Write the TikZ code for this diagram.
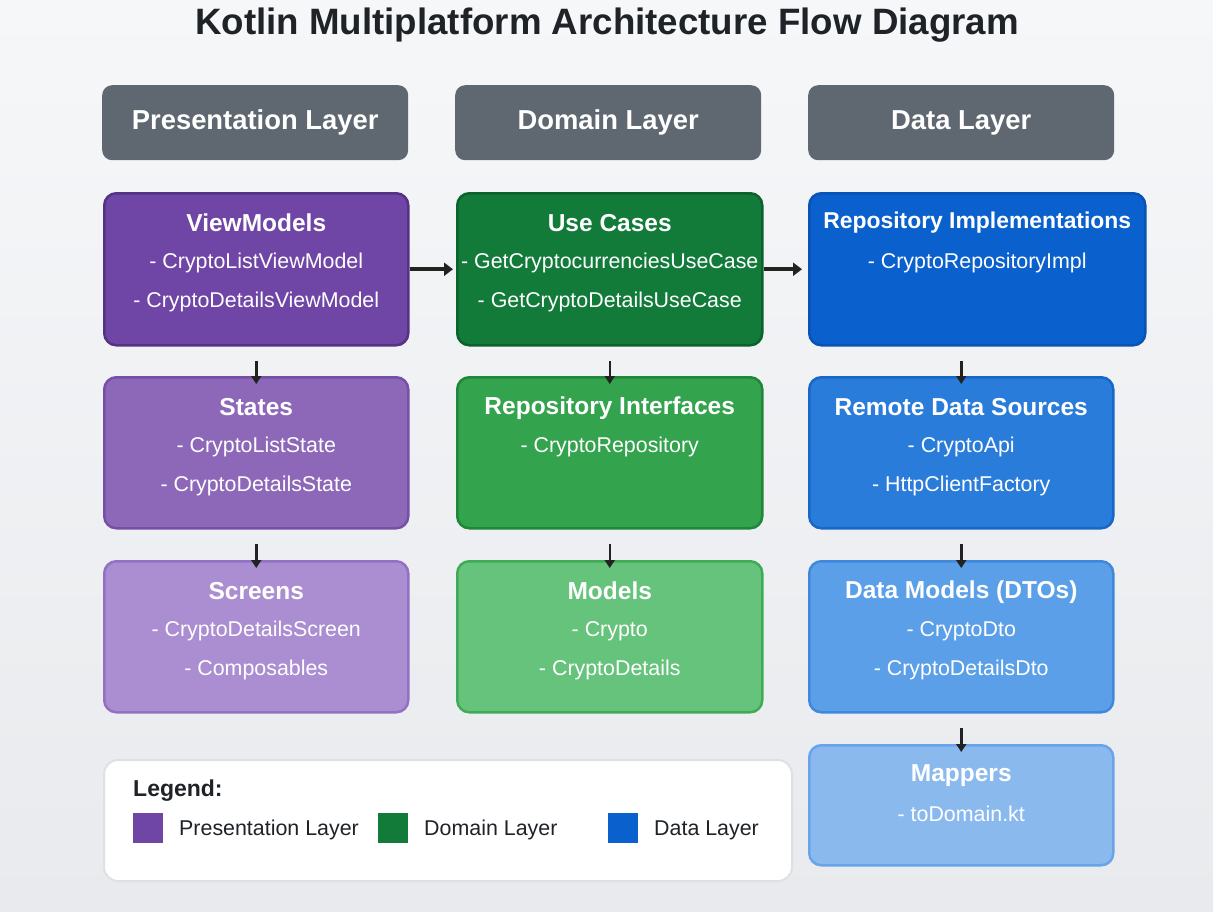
\documentclass[tikz,border=0pt]{standalone}
\usepackage{fontspec}
\setmainfont{Liberation Sans}
\usetikzlibrary{arrows.meta,positioning}
\definecolor{bgA}{HTML}{F6F7F9}
\definecolor{bgB}{HTML}{E8EAED}
\definecolor{hdr}{HTML}{5F6770}
\definecolor{txt}{HTML}{1F2328}
\definecolor{pA}{HTML}{6F45A6}\definecolor{pAb}{HTML}{553383}
\definecolor{pB}{HTML}{8D68B8}\definecolor{pBb}{HTML}{7650A8}
\definecolor{pC}{HTML}{AB8DD1}\definecolor{pCb}{HTML}{9270C3}
\definecolor{gA}{HTML}{127B3A}\definecolor{gAb}{HTML}{0C622D}
\definecolor{gB}{HTML}{33A34D}\definecolor{gBb}{HTML}{1F863A}
\definecolor{gC}{HTML}{66C37B}\definecolor{gCb}{HTML}{40AB57}
\definecolor{bA}{HTML}{0A60CD}\definecolor{bAb}{HTML}{0953B5}
\definecolor{bB}{HTML}{2A7CDB}\definecolor{bBb}{HTML}{1767C8}
\definecolor{bC}{HTML}{5A9FE8}\definecolor{bCb}{HTML}{3F88DC}
\definecolor{bD}{HTML}{8AB9EE}\definecolor{bDb}{HTML}{69A4EA}
\definecolor{arr}{HTML}{222222}
\definecolor{lgb}{HTML}{DDE1E5}
\tikzset{
  box/.style={draw, line width=2.5pt, rounded corners=12pt, anchor=north west, inner sep=0pt},
  hdrbox/.style={fill=hdr, rounded corners=10pt, anchor=north west, inner sep=0pt, minimum width=306pt, minimum height=75pt,
     text=white, font=\fontsize{27.4}{32}\selectfont\bfseries},
  ttl/.style={text=white, font=\fontsize{24.5}{29}\selectfont\bfseries, inner sep=0pt},
  itm/.style={text=white, font=\fontsize{21.4}{25}\selectfont, inner sep=0pt},
  harr/.style={line width=4pt, draw=arr, -{Triangle[length=9pt,width=13pt]}},
  varr/.style={line width=2.5pt, draw=arr, -{Triangle[length=8pt,width=10pt]}},
  lgtxt/.style={text=txt, font=\fontsize{21.4}{25}\selectfont, inner sep=0pt, anchor=west},
  sq/.style={anchor=north west, minimum size=30pt, inner sep=0pt},
}
\begin{document}
\begin{tikzpicture}[x=1pt,y=-1pt]
\useasboundingbox (0,0) rectangle (1213,911);
\shade[left color=bgA, right color=bgB, shading angle=0] (0,0) rectangle (1213,911);
\node[text=txt, font=\fontsize{36.7}{42}\selectfont\bfseries, inner sep=0pt] (title) at (607,25) {Kotlin Multiplatform Architecture Flow Diagram};
% headers
\node[hdrbox] (h1) at (102,85) {Presentation Layer};
\node[hdrbox] (h2) at (455,85) {Domain Layer};
\node[hdrbox] (h3) at (808,85) {Data Layer};
% row 1
\node[box, fill=pA, draw=pAb, minimum width=304pt, minimum height=152pt] (vm) at (103,192) {};
\node[box, fill=gA, draw=gAb, minimum width=305pt, minimum height=152pt] (uc) at (456,192) {};
\node[box, fill=bA, draw=bAb, minimum width=336pt, minimum height=152pt] (ri) at (808,192) {};
% row 2
\node[box, fill=pB, draw=pBb, minimum width=304pt, minimum height=151pt] (st) at (103,376) {};
\node[box, fill=gB, draw=gBb, minimum width=305pt, minimum height=151pt] (rif) at (456,376) {};
\node[box, fill=bB, draw=bBb, minimum width=304pt, minimum height=151pt] (rds) at (808,376) {};
% row 3
\node[box, fill=pC, draw=pCb, minimum width=304pt, minimum height=151pt] (sc) at (103,560) {};
\node[box, fill=gC, draw=gCb, minimum width=305pt, minimum height=151pt] (md) at (456,560) {};
\node[box, fill=bC, draw=bCb, minimum width=304pt, minimum height=151pt] (dm) at (808,560) {};
% row 4
\node[box, fill=bD, draw=bDb, minimum width=304pt, minimum height=120pt] (mp) at (808,744) {};
% texts
\node[ttl] (vmT) at ([yshift=-31pt]vm.north) {ViewModels};
\node[itm] (vm1) at ([yshift=-71pt]vm.north) {- CryptoListViewModel};
\node[itm] (vm2) at ([yshift=-110pt]vm.north) {- CryptoDetailsViewModel};
\node[ttl] (ucT) at ([yshift=-31pt]uc.north) {Use Cases};
\node[itm] (uc1) at ([yshift=-71pt]uc.north) {- GetCryptocurrenciesUseCase};
\node[itm] (uc2) at ([yshift=-110pt]uc.north) {- GetCryptoDetailsUseCase};
\node[ttl, font=\fontsize{22.9}{27}\selectfont\bfseries] (riT) at ([yshift=-31pt]ri.north) {Repository Implementations};
\node[itm] (ri1) at ([yshift=-71pt]ri.north) {- CryptoRepositoryImpl};
\node[ttl] (stT) at ([yshift=-31pt]st.north) {States};
\node[itm] (st1) at ([yshift=-71pt]st.north) {- CryptoListState};
\node[itm] (st2) at ([yshift=-110pt]st.north) {- CryptoDetailsState};
\node[ttl] (rifT) at ([yshift=-32pt]rif.north) {Repository Interfaces};
\node[itm] (rif1) at ([yshift=-71pt]rif.north) {- CryptoRepository};
\node[ttl] (rdsT) at ([yshift=-31pt]rds.north) {Remote Data Sources};
\node[itm] (rds1) at ([yshift=-71pt]rds.north) {- CryptoApi};
\node[itm] (rds2) at ([yshift=-110pt]rds.north) {- HttpClientFactory};
\node[ttl] (scT) at ([yshift=-31pt]sc.north) {Screens};
\node[itm] (sc1) at ([yshift=-71pt]sc.north) {- CryptoDetailsScreen};
\node[itm] (sc2) at ([yshift=-110pt]sc.north) {- Composables};
\node[ttl] (mdT) at ([yshift=-31pt]md.north) {Models};
\node[itm] (md1) at ([yshift=-71pt]md.north) {- Crypto};
\node[itm] (md2) at ([yshift=-110pt]md.north) {- CryptoDetails};
\node[ttl] (dmT) at ([yshift=-32pt]dm.north) {Data Models (DTOs)};
\node[itm] (dm1) at ([yshift=-71pt]dm.north) {- CryptoDto};
\node[itm] (dm2) at ([yshift=-110pt]dm.north) {- CryptoDetailsDto};
\node[ttl] (mpT) at ([yshift=-32pt]mp.north) {Mappers};
\node[itm] (mp1) at ([yshift=-70pt]mp.north) {- toDomain.kt};
% arrows
\draw[harr, shorten >=3pt] (vm.east) -- (uc.west);
\draw[harr, shorten >=6pt] (uc.east) -- (ri.west);
\draw[varr] ([yshift=-14pt]vm.south) -- ([yshift=-8pt]st.north);
\draw[varr] ([yshift=-14pt]st.south) -- ([yshift=-8pt]sc.north);
\draw[varr] ([yshift=-14pt]uc.south) -- ([yshift=-8pt]rif.north);
\draw[varr] ([yshift=-14pt]rif.south) -- ([yshift=-8pt]md.north);
\draw[varr] ([yshift=-14pt]ri.south -| rds.north) -- ([yshift=-8pt]rds.north);
\draw[varr] ([yshift=-14pt]rds.south) -- ([yshift=-8pt]dm.north);
\draw[varr] ([yshift=-14pt]dm.south) -- ([yshift=-8pt]mp.north);
% legend
\node[draw=lgb, line width=2pt, fill=white, rounded corners=14pt, anchor=north west, inner sep=0pt, minimum width=688pt, minimum height=121pt] (lg) at (103,759) {};
\node[text=txt, font=\fontsize{23}{27}\selectfont\bfseries, inner sep=0pt, anchor=west] (lgT) at (133,791) {Legend:};
\node[sq, fill=pA] (sq1) at (133,813) {};
\node[lgtxt] (l1) at (179,830) {Presentation Layer};
\node[sq, fill=gA] (sq2) at (378,813) {};
\node[lgtxt] (l2) at (424,830) {Domain Layer};
\node[sq, fill=bA] (sq3) at (608,813) {};
\node[lgtxt] (l3) at (654,830) {Data Layer};
\end{tikzpicture}
\end{document}
